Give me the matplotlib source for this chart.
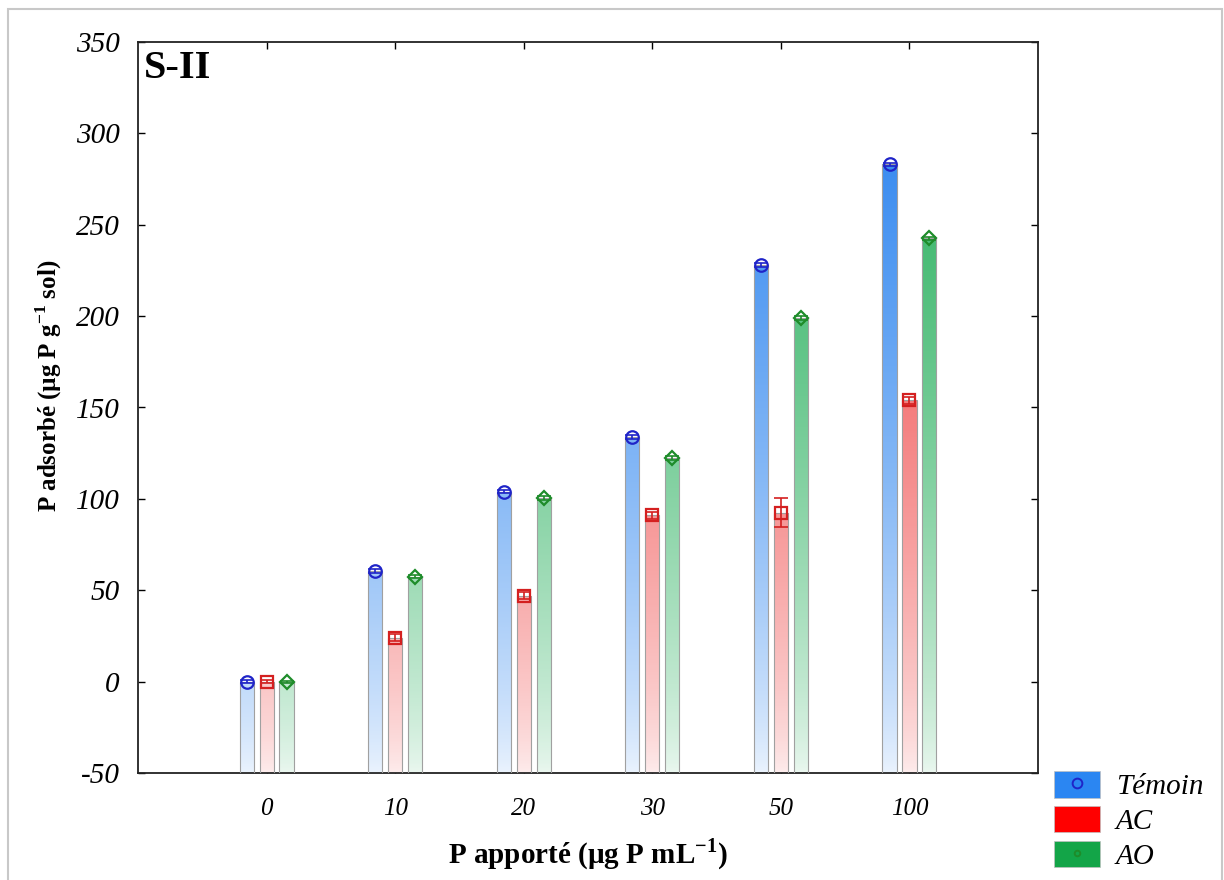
import numpy as np
import matplotlib
matplotlib.use("Agg")
import matplotlib.pyplot as plt
from matplotlib.patches import Rectangle, Patch
from matplotlib.lines import Line2D
from matplotlib.legend_handler import HandlerTuple
from matplotlib.colors import LinearSegmentedColormap

plt.rcParams["font.family"] = ["Liberation Serif", "DejaVu Serif"]
plt.rcParams["mathtext.fontset"] = "custom"
plt.rcParams["mathtext.rm"] = "Liberation Serif"
plt.rcParams["mathtext.bf"] = "Liberation Serif:bold"

# Data
doses = ["0", "10", "20", "30", "50", "100"]
series = ["Témoin", "AC", "AO"]
temoin = [0, 60.5, 104, 134, 228, 283]
temoin_err = [0.8, 1.0, 1.0, 1.0, 1.0, 1.0]
ac = [0, 24, 47, 91, 92.5, 154]
ac_err = [0.8, 2.0, 2.0, 2.0, 8.0, 2.0]
ao = [0, 57.5, 100.5, 122.5, 199, 242.5]
ao_err = [0.6, 1.0, 1.0, 1.0, 1.0, 1.0]

bar_colors = ["#3a8cf0", "#f04848", "#34b466"]
marker_colors = ["#1f24c8", "#d42020", "#1e8c2a"]
legend_colors = ["#2b86f2", "#ff0000", "#13a548"]
markers = ["o", "s", "D"]
marker_sizes = [9, 9, 7]
offsets = [-0.155, 0.0, 0.155]
width = 0.11
ymin, ymax = -50, 350

fig = plt.figure(figsize=(12.24, 8.8), dpi=100)
ax = fig.add_axes([138 / 1224, 107 / 880, 900 / 1224, 731 / 880])

# outer frame of the figure
fig.patches.append(Rectangle((8 / 1224, -0.01), 1214 / 1224, (880 - 9) / 880 + 0.01,
                             transform=fig.transFigure, fill=False,
                             edgecolor="#c8c8c8", lw=1.5, zorder=0))

x = np.arange(len(doses))
yy = np.linspace(ymin, ymax, 400)
frac = 0.10 + 0.90 * np.clip((yy - ymin) / 340.0, 0, 1) ** 0.75
grad = frac[:, None]

for vals, errs, bc, mc, mk, ms, off in zip([temoin, ac, ao], [temoin_err, ac_err, ao_err],
                                            bar_colors, marker_colors, markers,
                                            marker_sizes, offsets):
    cmap = LinearSegmentedColormap.from_list("g", ["#ffffff", bc])
    xs = x + off
    bars = ax.bar(xs, np.array(vals) - ymin, bottom=ymin, width=width,
                  color="none", edgecolor="#a0a0a0", linewidth=0.8, zorder=3)
    for rect in bars:
        x0 = rect.get_x()
        im = ax.imshow(grad, cmap=cmap, vmin=0, vmax=1, origin="lower",
                       extent=(x0, x0 + width, ymin, ymax), aspect="auto",
                       interpolation="bilinear", zorder=2)
        im.set_clip_path(rect)
    ax.errorbar(xs, vals, yerr=errs, fmt="none", ecolor=mc, elinewidth=1.2,
                capsize=5, capthick=1.2, zorder=4)
    ax.plot(xs, vals, linestyle="none", marker=mk, markersize=ms,
            markerfacecolor="none", markeredgecolor=mc, markeredgewidth=1.6,
            zorder=5)

ax.set_xlim(-1, 6)
ax.set_ylim(ymin, ymax)
ax.set_xticks(x)
ax.set_xticklabels(doses, fontsize=18, fontstyle="italic")
ax.set_yticks(np.arange(-50, 351, 50))
ax.set_yticklabels([str(v) for v in range(-50, 351, 50)], fontsize=21,
                   fontstyle="italic")
ax.tick_params(direction="in", length=5, width=1, top=True, right=True)
ax.tick_params(axis="y", pad=13)
ax.tick_params(axis="x", pad=18)
for sp in ax.spines.values():
    sp.set_linewidth(1.3)
    sp.set_color("#222222")

ax.set_xlabel(r"P apporté (µg P mL$^{\mathbf{-1}}$)", fontsize=21,
              fontweight="bold", labelpad=12)
ax.set_ylabel(r"P adsorbé (µg P g$^{\mathbf{-1}}$ sol)", fontsize=18,
              fontweight="bold")
ax.yaxis.set_label_coords(-0.082, 0.53)
ax.text(0.007, 0.989, "S-II", transform=ax.transAxes, fontsize=29,
        fontweight="bold", va="top", ha="left")

handles = []
for lc, mc, mk in zip(legend_colors, marker_colors, markers):
    p = Patch(facecolor=lc, edgecolor="#c0c0c0", linewidth=0.5)
    if mk == "s":
        handles.append(p)
    else:
        m = Line2D([], [], linestyle="none", marker="o", markersize=7 if mk == "o" else 4,
                   markerfacecolor="none", markeredgecolor=mc, markeredgewidth=1.4)
        handles.append((p, m))
fig.legend(handles, series, loc="upper left", bbox_to_anchor=(1034 / 1224, 1 - 751 / 880),
           frameon=False, prop={"size": 21, "style": "italic"},
           handler_map={tuple: HandlerTuple(ndivide=1, pad=0)},
           handlelength=1.55, handleheight=1.0, handletextpad=0.55,
           labelspacing=0.2, borderpad=0.2)

fig.savefig("out.png", dpi=100)
